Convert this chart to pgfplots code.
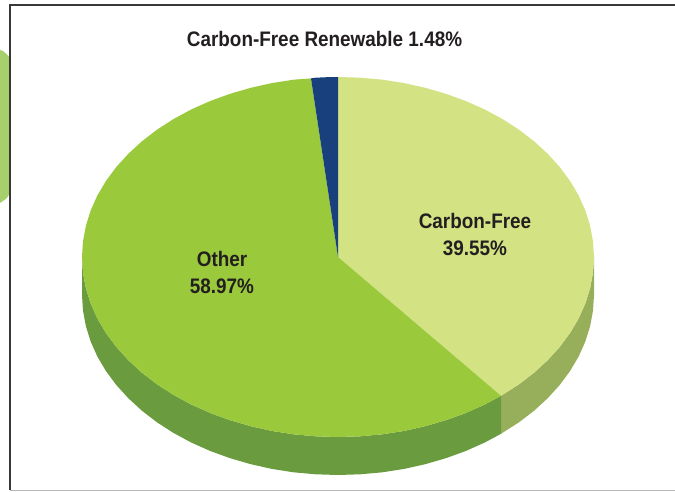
\documentclass[border=0pt]{standalone}
\usepackage{pgfplots}
\pgfplotsset{compat=1.18}
\usepackage{fontspec}
\setmainfont{Liberation Sans}
\definecolor{lightg}{HTML}{D3E283}
\definecolor{midg}{HTML}{9ACA3C}
\definecolor{navy}{HTML}{17407C}
\definecolor{darkg}{HTML}{6B9B3F}
\definecolor{sideg}{HTML}{97AE5B}
\definecolor{blob}{HTML}{A5D06B}
\definecolor{txt}{HTML}{231F20}
\tikzset{lab/.style={font=\bfseries\fontsize{21}{27}\selectfont, text=txt, align=center, xscale=0.9, inner sep=0pt}}
\begin{document}
\begin{tikzpicture}
\useasboundingbox (0pt,0pt) rectangle (675pt,491pt);
\begin{axis}[
  at={(0pt,0pt)}, anchor=south west,
  scale only axis, width=675pt, height=491pt,
  xmin=-338, xmax=337, ymin=-234, ymax=257,
  hide axis, clip=true,
  every axis plot/.append style={forget plot},
]
% decorative shape beyond the frame
\addplot[draw=none, fill=blob] coordinates {(-338,207) (-335,206) (-331,202.5) (-328,199) (-328,64) (-331,59) (-335,56) (-338,54)} --cycle;
% sides
\addplot[draw=none, fill=sideg] coordinates {(256,0) (255,-15.7) (252.1,-31.3) (247.3,-46.6) (240.6,-61.6) (232,-76.1) (221.7,-90) (209.7,-103.2) (196.1,-115.7) (181,-127.3) (163,-138.8)
 (163,-176.8) (181,-165.3) (196.1,-153.7) (209.7,-141.2) (221.7,-128) (232,-114.1) (240.6,-99.6) (247.3,-84.6) (252.1,-69.3) (255,-53.7) (256,-38)} --cycle;
\addplot[draw=none, fill=darkg] coordinates {(163,-138.8) (146.8,-147.5) (128,-155.9) (108.2,-163.1) (87.6,-169.1) (66.3,-173.9) (44.5,-177.3) (22.3,-179.3) (0,-180)
 (-22.3,-179.3) (-44.5,-177.3) (-66.3,-173.9) (-87.6,-169.1) (-108.2,-163.1) (-128,-155.9) (-146.8,-147.5) (-164.6,-137.9) (-181,-127.3) (-196.1,-115.7) (-209.7,-103.2) (-221.7,-90) (-232,-76.1) (-240.6,-61.6) (-247.3,-46.6) (-252.1,-31.3) (-255,-15.7) (-256,0)
 (-256,-38) (-255,-53.7) (-252.1,-69.3) (-247.3,-84.6) (-240.6,-99.6) (-232,-114.1) (-221.7,-128) (-209.7,-141.2) (-196.1,-153.7) (-181,-165.3) (-164.6,-175.9) (-146.8,-185.5) (-128,-193.9) (-108.2,-201.1) (-87.6,-207.1) (-66.3,-211.9) (-44.5,-215.3) (-22.3,-217.3) (0,-218)
 (22.3,-217.3) (44.5,-215.3) (66.3,-211.9) (87.6,-207.1) (108.2,-201.1) (128,-193.9) (146.8,-185.5) (163,-176.8)} --cycle;
% top wedges
\addplot[draw=none, fill=lightg] coordinates {(0,0) (0,180) (22.3,179.3) (44.5,177.3) (66.3,173.9) (87.6,169.1) (108.2,163.1) (128,155.9) (146.8,147.5) (164.6,137.9) (181,127.3) (196.1,115.7) (209.7,103.2) (221.7,90) (232,76.1) (240.6,61.6) (247.3,46.6) (252.1,31.3) (255,15.7) (256,0)
 (255,-15.7) (252.1,-31.3) (247.3,-46.6) (240.6,-61.6) (232,-76.1) (221.7,-90) (209.7,-103.2) (196.1,-115.7) (181,-127.3) (163,-138.8)} --cycle;
\addplot[draw=none, fill=midg] coordinates {(0,0) (163,-138.8) (146.8,-147.5) (128,-155.9) (108.2,-163.1) (87.6,-169.1) (66.3,-173.9) (44.5,-177.3) (22.3,-179.3) (0,-180)
 (-22.3,-179.3) (-44.5,-177.3) (-66.3,-173.9) (-87.6,-169.1) (-108.2,-163.1) (-128,-155.9) (-146.8,-147.5) (-164.6,-137.9) (-181,-127.3) (-196.1,-115.7) (-209.7,-103.2) (-221.7,-90) (-232,-76.1) (-240.6,-61.6) (-247.3,-46.6) (-252.1,-31.3) (-255,-15.7) (-256,0)
 (-255,15.7) (-252.1,31.3) (-247.3,46.6) (-240.6,61.6) (-232,76.1) (-221.7,90) (-209.7,103.2) (-196.1,115.7) (-181,127.3) (-164.6,137.9) (-146.8,147.5) (-128,155.9) (-108.2,163.1) (-87.6,169.1) (-66.3,173.9) (-44.5,177.3) (-27,178.6)} --cycle;
\addplot[draw=none, fill=navy] coordinates {(0,0) (-27,178.6) (-22.3,179.3) (-11,179.8) (0,180)} --cycle;
% frame
\addplot[draw=black!28, line width=1pt] coordinates {(-328,-233) (337,-233)};
\addplot[draw=black!78, line width=1.8pt] coordinates {(337,252) (-328,252) (-328,-233)};
% labels
\node[lab] at (axis cs:-13.5,218) {Carbon-Free Renewable 1.48\%};
\node[lab] at (axis cs:137,22) {Carbon-Free\\39.55\%};
\node[lab] at (axis cs:-116,-15) {Other\\58.97\%};
\end{axis}
\end{tikzpicture}
\end{document}
